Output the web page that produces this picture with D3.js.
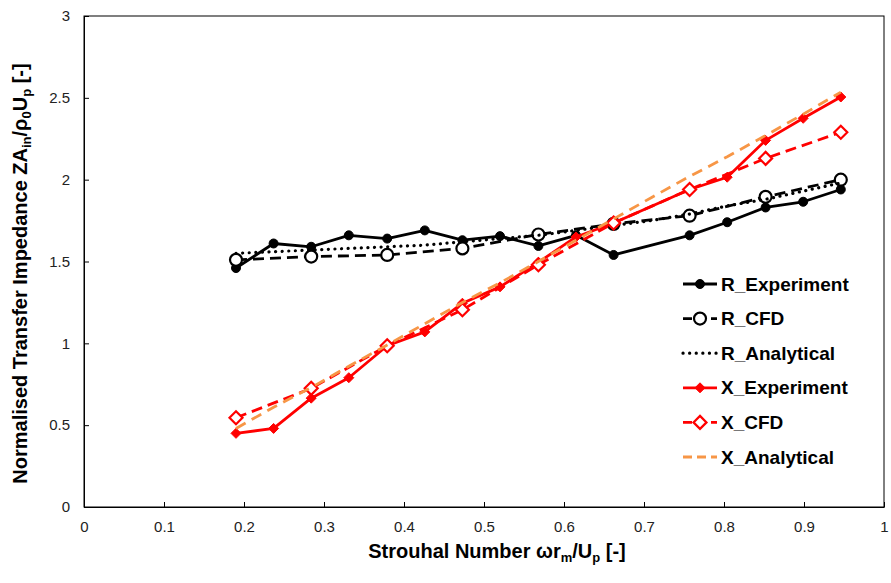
<!DOCTYPE html>
<html lang="en">
<head>
  <meta charset="UTF-8">
  <title>Normalised Transfer Impedance</title>
  <script src="https://d3js.org/d3.v7.min.js"></script>
  <style>
    body { margin: 0; background: #fff; }
    text { font-family: "Liberation Sans", Arial, sans-serif; }
  </style>
</head>
<body>
  <div id="chart"></div>
  <script>
    // Strouhal numbers (x)
    const stAll = [0.19, 0.237, 0.284, 0.331, 0.379, 0.426, 0.473, 0.52, 0.568, 0.615, 0.662, 0.709, 0.757, 0.804, 0.852, 0.899, 0.946];
    const stExp = [0.19, 0.237, 0.284, 0.331, 0.379, 0.426, 0.473, 0.52, 0.568, 0.615, 0.662, 0.757, 0.804, 0.852, 0.899, 0.946];
    const stCfd = [0.19, 0.284, 0.379, 0.473, 0.568, 0.662, 0.757, 0.852, 0.946];

    const rExperiment = [1.46, 1.61, 1.59, 1.66, 1.64, 1.69, 1.63, 1.655, 1.595, 1.66, 1.54, 1.66, 1.74, 1.83, 1.865, 1.94];
    const rCfd = [1.51, 1.53, 1.54, 1.58, 1.665, 1.73, 1.78, 1.895, 2.0];
    const rAnalytical = [1.55, 1.56, 1.57, 1.58, 1.59, 1.60, 1.62, 1.64, 1.66, 1.69, 1.72, 1.75, 1.79, 1.84, 1.88, 1.93, 1.98];
    const xExperiment = [0.45, 0.48, 0.665, 0.79, 0.985, 1.07, 1.245, 1.345, 1.495, 1.65, 1.735, 1.94, 2.015, 2.24, 2.375, 2.505];
    const xCfd = [0.545, 0.725, 0.985, 1.205, 1.48, 1.735, 1.94, 2.13, 2.29];
    const xAnalytical = [0.48, 0.61, 0.73, 0.86, 0.99, 1.12, 1.25, 1.37, 1.50, 1.63, 1.76, 1.89, 2.02, 2.14, 2.27, 2.40, 2.535];

    const xTicks = [0, 0.1, 0.2, 0.3, 0.4, 0.5, 0.6, 0.7, 0.8, 0.9, 1];
    const yTicks = [0, 0.5, 1, 1.5, 2, 2.5, 3];

    const W = 891, H = 583;
    const margin = {top: 16, right: 7, bottom: 76, left: 84};
    const width = W - margin.left - margin.right,
          height = H - margin.top - margin.bottom;

    const svg = d3.select("#chart").append("svg")
      .attr("width", W).attr("height", H);
    const g = svg.append("g")
      .attr("transform", `translate(${margin.left},${margin.top})`);

    const x = d3.scaleLinear().domain([0, 1]).range([0, width]);
    const y = d3.scaleLinear().domain([0, 3]).range([height, 0]);

    // axes with inward ticks
    const xAxis = g.append("g")
      .attr("transform", `translate(0,${height})`)
      .call(d3.axisBottom(x).tickValues(xTicks).tickSizeInner(-5).tickSizeOuter(0).tickPadding(14)
        .tickFormat(d => d));
    const yAxis = g.append("g")
      .call(d3.axisLeft(y).tickValues(yTicks).tickSizeInner(-5).tickSizeOuter(0).tickPadding(14)
        .tickFormat(d => d));
    [xAxis, yAxis].forEach(a => {
      a.selectAll("path, line").attr("stroke", "#000");
      a.selectAll("text").style("font-size", "15px").style("fill", "#222")
        .style("font-family", "'Liberation Sans', Arial, sans-serif");
    });

    // box
    g.append("rect")
      .attr("width", width).attr("height", height)
      .attr("fill", "none").attr("stroke", "#000").attr("stroke-width", 1);

    const series = [
      {name: "R_Experiment", xs: stExp, ys: rExperiment, color: "#000", dash: null, marker: "circle", filled: true},
      {name: "R_CFD", xs: stCfd, ys: rCfd, color: "#000", dash: "11,6", marker: "circle", filled: false},
      {name: "R_Analytical", xs: stAll, ys: rAnalytical, color: "#000", dash: "0.1,6.5", marker: null, cap: "round"},
      {name: "X_Experiment", xs: stExp, ys: xExperiment, color: "#ff0000", dash: null, marker: "diamond", filled: true},
      {name: "X_CFD", xs: stCfd, ys: xCfd, color: "#ff0000", dash: "11,6", marker: "diamond", filled: false},
      {name: "X_Analytical", xs: stAll, ys: xAnalytical, color: "#f79646", dash: "11,7", marker: null}
    ];

    const line = d3.line().x(d => x(d[0])).y(d => y(d[1]));

    function drawMarker(sel, s, cx, cy) {
      if (s.marker === "circle") {
        sel.append("circle").attr("cx", cx).attr("cy", cy)
          .attr("r", s.filled ? 4.5 : 6)
          .attr("fill", s.filled ? s.color : "#fff")
          .attr("stroke", s.color).attr("stroke-width", s.filled ? 1 : 2.2);
      } else if (s.marker === "diamond") {
        const r = s.filled ? 5 : 6.5;
        sel.append("path")
          .attr("d", `M${cx},${cy - r}L${cx + r},${cy}L${cx},${cy + r}L${cx - r},${cy}Z`)
          .attr("fill", s.filled ? s.color : "#fff")
          .attr("stroke", s.color).attr("stroke-width", s.filled ? 1 : 2.2);
      }
    }

    series.forEach(s => {
      const pts = s.xs.map((v, i) => [v, s.ys[i]]);
      g.append("path")
        .datum(pts)
        .attr("d", line)
        .attr("fill", "none")
        .attr("stroke", s.color)
        .attr("stroke-width", s.cap ? 3.2 : 2.8)
        .attr("stroke-linecap", s.cap || "butt")
        .attr("stroke-linejoin", "round")
        .attr("stroke-dasharray", s.dash);
      const mg = g.append("g");
      pts.forEach(p => drawMarker(mg, s, x(p[0]), y(p[1])));
    });

    // legend
    const legend = svg.append("g").attr("transform", "translate(683,284)");
    series.forEach((s, i) => {
      const row = legend.append("g").attr("transform", `translate(0,${i * 34.6})`);
      row.append("line")
        .attr("x1", 0).attr("x2", 34).attr("y1", 0).attr("y2", 0)
        .attr("stroke", s.color).attr("stroke-width", s.cap ? 3.2 : 2.8)
        .attr("stroke-linecap", s.cap || "butt")
        .attr("stroke-dasharray", s.dash ? (s.cap ? s.dash : "9,5") : null);
      drawMarker(row, s, 17, 0);
      row.append("text")
        .attr("x", 38).attr("y", 6.5)
        .style("font-size", "19px").style("font-weight", "bold")
        .text(s.name);
    });

    // axis titles
    const xt = svg.append("text")
      .attr("x", margin.left + width / 2 + 13).attr("y", 558)
      .attr("text-anchor", "middle")
      .style("font-size", "20px").style("font-weight", "bold");
    xt.append("tspan").text("Strouhal Number ωr");
    xt.append("tspan").attr("dy", 4).style("font-size", "13px").text("m");
    xt.append("tspan").attr("dy", -4).text("/U");
    xt.append("tspan").attr("dy", 4).style("font-size", "13px").text("p");
    xt.append("tspan").attr("dy", -4).text(" [-]");

    const yt = svg.append("text")
      .attr("transform", `translate(27,${margin.top + height / 2 + 12}) rotate(-90)`)
      .attr("text-anchor", "middle")
      .style("font-size", "20px").style("font-weight", "bold");
    yt.append("tspan").text("Normalised Transfer Impedance ZA");
    yt.append("tspan").attr("dy", 4).style("font-size", "13px").text("in");
    yt.append("tspan").attr("dy", -4).text("/ρ");
    yt.append("tspan").attr("dy", 4).style("font-size", "13px").text("0");
    yt.append("tspan").attr("dy", -4).text("U");
    yt.append("tspan").attr("dy", 4).style("font-size", "13px").text("p");
    yt.append("tspan").attr("dy", -4).text(" [-]");
  </script>
</body>
</html>
